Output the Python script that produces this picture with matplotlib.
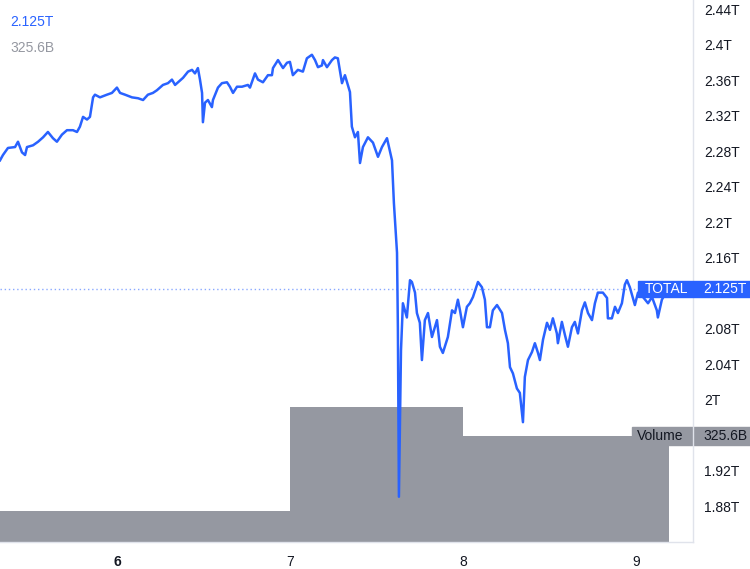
import matplotlib
matplotlib.use("Agg")
import matplotlib.pyplot as plt
import matplotlib.transforms as mtransforms
from matplotlib.patches import Rectangle
import numpy as np

plt.rcParams["font.family"] = ["Liberation Sans", "DejaVu Sans"]

# total crypto market cap (T) against day of month
days = [
    5.324, 5.341, 5.370, 5.411, 5.428, 5.451, 5.469, 5.480, 5.515, 5.544,
    5.573, 5.601, 5.630, 5.653, 5.682, 5.711, 5.746, 5.769, 5.786, 5.804,
    5.827, 5.844, 5.862, 5.873, 5.902, 5.942, 5.971, 6.000, 6.018, 6.047,
    6.087, 6.122, 6.151, 6.179, 6.208, 6.231, 6.266, 6.295, 6.318, 6.336,
    6.353, 6.382, 6.411, 6.434, 6.451, 6.468, 6.480, 6.492, 6.497, 6.509,
    6.526, 6.549, 6.555, 6.584, 6.607, 6.636, 6.653, 6.671, 6.694, 6.723,
    6.757, 6.769, 6.798, 6.815, 6.844, 6.873, 6.896, 6.902, 6.931, 6.960,
    6.983, 7.000, 7.017, 7.046, 7.075, 7.098, 7.127, 7.145, 7.162, 7.185,
    7.191, 7.214, 7.243, 7.260, 7.277, 7.301, 7.318, 7.335, 7.347, 7.358,
    7.376, 7.393, 7.405, 7.422, 7.451, 7.480, 7.509, 7.532, 7.561, 7.590,
    7.601, 7.619, 7.624, 7.630, 7.642, 7.653, 7.676, 7.694, 7.705, 7.723,
    7.734, 7.751, 7.763, 7.780, 7.798, 7.821, 7.850, 7.867, 7.884, 7.913,
    7.937, 7.954, 7.971, 7.983, 8.000, 8.023, 8.040, 8.058, 8.087, 8.110,
    8.127, 8.139, 8.156, 8.173, 8.197, 8.226, 8.243, 8.260, 8.272, 8.289,
    8.312, 8.329, 8.347, 8.358, 8.376, 8.399, 8.416, 8.434, 8.445, 8.463,
    8.486, 8.503, 8.520, 8.543, 8.549, 8.572, 8.590, 8.607, 8.630, 8.647,
    8.665, 8.688, 8.705, 8.723, 8.746, 8.763, 8.780, 8.809, 8.833, 8.838,
    8.861, 8.879, 8.896, 8.919, 8.936, 8.948, 8.965, 8.994, 9.012, 9.041,
    9.070, 9.093, 9.121, 9.127, 9.150, 9.185,
]
total = [
    2.270, 2.276, 2.284, 2.285, 2.291, 2.279, 2.276, 2.285, 2.287, 2.291,
    2.296, 2.302, 2.295, 2.291, 2.299, 2.304, 2.304, 2.302, 2.308, 2.319,
    2.316, 2.319, 2.341, 2.344, 2.341, 2.344, 2.346, 2.352, 2.346, 2.344,
    2.341, 2.340, 2.338, 2.344, 2.346, 2.349, 2.355, 2.357, 2.361, 2.355,
    2.358, 2.363, 2.370, 2.372, 2.368, 2.374, 2.361, 2.346, 2.313, 2.335,
    2.338, 2.330, 2.338, 2.352, 2.357, 2.358, 2.353, 2.346, 2.353, 2.353,
    2.355, 2.352, 2.368, 2.361, 2.358, 2.366, 2.366, 2.374, 2.383, 2.374,
    2.380, 2.381, 2.366, 2.372, 2.370, 2.385, 2.389, 2.383, 2.375, 2.377,
    2.383, 2.375, 2.383, 2.386, 2.385, 2.357, 2.366, 2.355, 2.347, 2.308,
    2.296, 2.302, 2.267, 2.285, 2.296, 2.290, 2.274, 2.285, 2.295, 2.270,
    2.222, 2.166, 2.082, 1.891, 2.056, 2.109, 2.093, 2.135, 2.133, 2.121,
    2.098, 2.087, 2.045, 2.090, 2.098, 2.071, 2.090, 2.060, 2.053, 2.071,
    2.101, 2.098, 2.113, 2.101, 2.082, 2.105, 2.109, 2.116, 2.133, 2.127,
    2.113, 2.082, 2.082, 2.101, 2.107, 2.098, 2.079, 2.064, 2.037, 2.030,
    2.013, 2.008, 1.975, 2.026, 2.045, 2.054, 2.064, 2.053, 2.045, 2.068,
    2.087, 2.079, 2.092, 2.075, 2.064, 2.088, 2.073, 2.060, 2.082, 2.088,
    2.075, 2.101, 2.110, 2.098, 2.090, 2.109, 2.121, 2.121, 2.115, 2.092,
    2.092, 2.105, 2.098, 2.109, 2.130, 2.135, 2.127, 2.107, 2.121, 2.116,
    2.109, 2.116, 2.101, 2.093, 2.113, 2.125,
]

# daily volume (B), step edges in days
vol_edges = [5.0, 7.0, 8.0, 9.19]
volume = [95.0, 415.0, 325.6]

last_total = 2.125
last_volume = 325.6

# 1.96T and 2.12T sit under the axis labels in the original, so they are left out
price_ticks = [1.88, 1.92, 2.0, 2.04, 2.08, 2.16, 2.2, 2.24, 2.28, 2.32, 2.36, 2.4, 2.44]
day_ticks = [6, 7, 8, 9]
day_labels = ["6", "7", "8", "9"]

BLUE = "#2962FF"
GREY = "#9598A1"
TEXT = "#131722"
GRID = "#E0E3EB"

fig = plt.figure(figsize=(7.5, 5.69), dpi=100)
ax = fig.add_axes([0, 27 / 569, 693 / 750, 542 / 569])
axv = ax.twinx()
ax.set_zorder(axv.get_zorder() + 1)
ax.patch.set_visible(False)

# volume steps
vx = np.repeat(vol_edges, 2)[1:-1]
vy = np.repeat(volume, 2)
axv.fill_between(vx, 0, vy, color=GREY, linewidth=0)
axv.set_ylim(0, 1665)
axv.set_yticks([])
for s in axv.spines.values():
    s.set_visible(False)

ax.plot(days, total, color=BLUE, lw=1.8, solid_joinstyle="round")
ax.axhline(last_total, color=BLUE, alpha=0.55, lw=1.0, ls=(0, (1, 2)))

ax.set_xlim(5.324, 9.330)
ax.set_ylim(1.840, 2.4507)
ax.yaxis.tick_right()
ax.set_yticks(price_ticks)
ax.set_yticklabels([f"{v:.2f}".rstrip("0").rstrip(".") + "T" for v in price_ticks])
ax.set_xticks(day_ticks)
ax.set_xticklabels(day_labels)
ax.get_xticklabels()[0].set_fontweight("bold")
ax.tick_params(axis="y", length=0, pad=8, labelsize=10, labelcolor=TEXT)
ax.tick_params(axis="x", length=0, pad=9, labelsize=10, labelcolor=TEXT)
for name, s in ax.spines.items():
    if name in ("right", "bottom"):
        s.set_color(GRID)
        s.set_linewidth(1)
    else:
        s.set_visible(False)

# top-left legend values
ax.text(10 / 693, 1 - 22 / 542, f"{last_total:.3f}T", transform=ax.transAxes,
        color=BLUE, fontsize=10, va="center")
ax.text(10 / 693, 1 - 48 / 542, f"{last_volume}B", transform=ax.transAxes,
        color=GREY, fontsize=10, va="center")

# price label on the axis
tr = mtransforms.blended_transform_factory(ax.transAxes, ax.transData)
ax.add_patch(Rectangle((638 / 693, last_total - 0.0095), 112 / 693, 0.019,
                       transform=tr, color=BLUE, clip_on=False, zorder=5))
ax.text(645 / 693, last_total, "TOTAL", transform=tr, color="white",
        fontsize=10, va="center", zorder=6, clip_on=False)
ax.text(703 / 693, last_total, f"{last_total:.3f}T", transform=tr, color="white",
        fontsize=10, va="center", zorder=6, clip_on=False)

# volume label on the axis
trv = mtransforms.blended_transform_factory(axv.transAxes, axv.transData)
axv.add_patch(Rectangle((632 / 693, last_volume - 29), 118 / 693, 58,
                        transform=trv, color=GREY, clip_on=False, zorder=5))
axv.text(637 / 693, last_volume, "Volume", transform=trv, color=TEXT,
         fontsize=10, va="center", zorder=6, clip_on=False)
axv.text(703 / 693, last_volume, f"{last_volume}B", transform=trv, color=TEXT,
         fontsize=10, va="center", zorder=6, clip_on=False)

fig.savefig("out.png", dpi=100)
